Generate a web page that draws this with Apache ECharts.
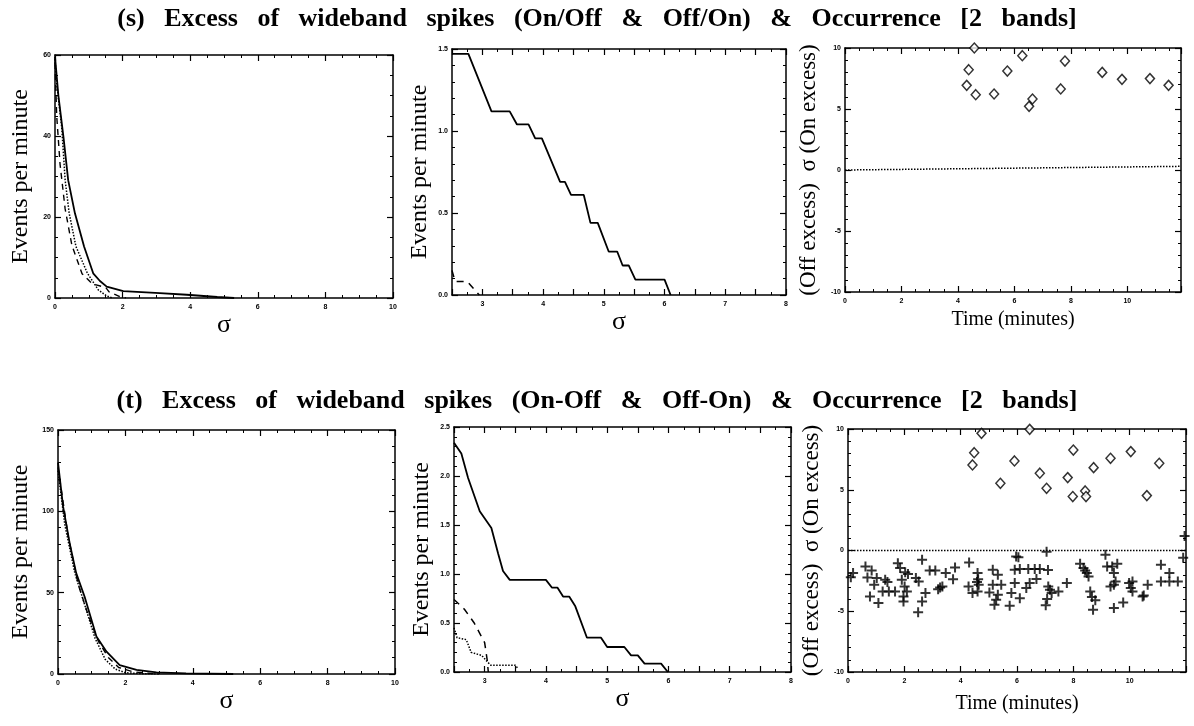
<!DOCTYPE html>
<html>
<head>
<meta charset="utf-8">
<style>
  html, body { margin: 0; padding: 0; background: #fff; }
  #main { width: 1194px; height: 726px; }
</style>
<script src="https://cdn.jsdelivr.net/npm/echarts@6/dist/echarts.min.js"></script>
</head>
<body>
<div id="main"></div>
<script>
// (s) row — on/off ratio
var sSigmaAll = [[0, 59.6], [0.1, 50], [0.25, 39.8], [0.39, 29.1], [0.59, 20.9], [0.86, 12.7], [1.13, 6.1], [1.33, 4.2], [1.53, 2.8], [2.02, 1.7], [3.1, 1.2], [3.9, 0.8], [4.8, 0.25], [5.3, 0]];
var sSigmaOn = [[0, 59], [0.05, 53], [0.2, 42], [0.3, 29.1], [0.42, 20.9], [0.62, 12.7], [0.96, 6.1], [1.28, 2.0], [1.53, 0.5], [1.7, 0]];
var sSigmaOff = [[0, 58], [0.05, 45], [0.15, 33], [0.3, 22], [0.5, 13], [0.8, 6], [1.1, 3.5], [1.5, 2.6], [1.6, 1.5], [1.9, 0.4], [2.1, 0]];
var sTailAll = [[2.5, 1.47], [2.77, 1.47], [3.15, 1.12], [3.45, 1.12], [3.57, 1.04], [3.76, 1.04], [3.87, 0.955], [3.98, 0.955], [4.28, 0.69], [4.36, 0.69], [4.46, 0.61], [4.67, 0.61], [4.78, 0.44], [4.9, 0.44], [5.08, 0.265], [5.22, 0.265], [5.31, 0.18], [5.41, 0.18], [5.52, 0.094], [6.0, 0.094], [6.1, 0]];
var sTailOff = [[2.5, 0.15], [2.55, 0.083], [2.75, 0.083], [2.95, 0]];
var sOnExcess = [[4.31, 6.94], [4.38, 8.22], [4.58, 10.0], [4.63, 6.17], [5.28, 6.23], [5.75, 8.11], [6.28, 9.37], [6.52, 5.22], [6.64, 5.82], [7.64, 6.64], [7.79, 8.93], [9.11, 8.0], [9.81, 7.43], [10.8, 7.49], [11.46, 6.94]];
var sOffExcess = [];
var sZeroLine = [[0, 0], [11.9, 0.3]];

// (t) row — on-off difference
var tSigmaAll = [[0, 130], [0.15, 103], [0.35, 80], [0.54, 62], [0.79, 47.5], [1.14, 23], [1.44, 13.7], [1.83, 5.5], [2.33, 2.5], [2.92, 1], [3.8, 0.4], [5.2, 0]];
var tSigmaOn = [[0, 125], [0.2, 92], [0.5, 62], [0.8, 42], [1.1, 22], [1.4, 9], [1.7, 3], [2.0, 0.8], [2.5, 0.2], [3, 0]];
var tSigmaOff = [[0, 127], [0.3, 85], [0.6, 55], [0.9, 36], [1.2, 20], [1.5, 10], [1.8, 4], [2.2, 1.5], [2.6, 0.5], [3, 0]];
var tTailAll = [[2.5, 2.34], [2.62, 2.23], [2.73, 1.98], [2.92, 1.64], [3.11, 1.47], [3.22, 1.21], [3.30, 1.03], [3.41, 0.94], [4.0, 0.94], [4.1, 0.86], [4.19, 0.86], [4.28, 0.77], [4.38, 0.77], [4.48, 0.67], [4.67, 0.35], [4.9, 0.35], [5.0, 0.255], [5.28, 0.255], [5.39, 0.17], [5.5, 0.17], [5.61, 0.085], [5.88, 0.085], [5.99, 0]];
var tTailOff = [[2.5, 0.74], [2.67, 0.64], [2.83, 0.5], [3.0, 0.3], [3.04, 0.13], [3.06, 0]];
var tTailOn = [[2.5, 0.45], [2.55, 0.35], [2.7, 0.33], [2.78, 0.2], [2.95, 0.17], [3.05, 0.1], [3.1, 0.07], [3.5, 0.07], [3.55, 0.03]];
var tOnExcess = [[4.42, 7.04], [4.48, 8.05], [4.74, 9.64], [5.41, 5.53], [5.91, 7.37], [6.45, 9.97], [6.81, 6.36], [7.05, 5.12], [7.8, 6.0], [8.0, 8.27], [7.98, 4.44], [8.42, 4.9], [8.45, 4.44], [8.72, 6.82], [9.32, 7.59], [10.04, 8.14], [10.61, 4.52], [11.05, 7.18]];
var tOffExcess = [[0.1, -2.2], [0.18, -1.86], [0.62, -1.31], [0.84, -1.64], [0.69, -2.22], [1.02, -2.27], [1.32, -2.41], [1.4, -2.6], [0.93, -2.82], [0.78, -3.78], [1.08, -4.33], [1.23, -3.37], [1.45, -3.37], [1.67, -3.37], [2.09, -3.37], [1.77, -1.04], [1.85, -1.45], [2.03, -1.78], [2.13, -1.94], [1.91, -2.41], [2.01, -2.96], [1.97, -3.78], [1.97, -4.19], [2.41, -2.27], [2.51, -2.55], [2.63, -0.77], [2.75, -3.5], [2.63, -4.19], [2.49, -5.09], [2.9, -1.64], [3.1, -1.64], [3.2, -3.18], [3.35, -2.96], [3.27, -3.05], [3.47, -1.86], [3.73, -2.36], [3.8, -1.4], [4.3, -0.99], [4.28, -2.96], [4.42, -3.5], [4.6, -1.86], [4.62, -2.36], [4.58, -2.6], [4.64, -2.82], [4.6, -3.37], [5.14, -1.59], [5.32, -2.0], [5.14, -2.82], [5.44, -2.82], [5.02, -3.45], [5.32, -3.64], [5.26, -4.05], [5.2, -4.46], [5.74, -4.54], [5.8, -3.5], [5.92, -1.59], [5.92, -2.68], [5.97, -0.49], [6.05, -0.55], [6.1, -1.53], [6.4, -1.53], [6.63, -1.53], [6.81, -1.53], [7.1, -1.6], [7.05, -0.1], [6.45, -2.68], [6.69, -2.35], [6.33, -3.09], [6.1, -3.92], [7.11, -2.96], [7.17, -3.23], [7.23, -3.5], [7.07, -4.0], [7.02, -4.5], [7.47, -3.37], [7.77, -2.68], [8.24, -1.1], [8.36, -1.45], [8.42, -1.64], [8.48, -1.86], [8.54, -2.13], [8.6, -3.37], [8.66, -3.83], [8.78, -4.1], [8.7, -4.87], [9.14, -0.35], [9.2, -1.31], [9.38, -1.31], [9.56, -1.1], [9.44, -1.86], [9.5, -2.55], [9.44, -2.82], [9.32, -2.96], [9.44, -4.73], [9.77, -4.27], [9.98, -2.68], [10.1, -2.55], [10.04, -3.09], [10.1, -3.37], [10.46, -3.78], [10.5, -3.7], [10.64, -2.82], [11.11, -1.18], [11.41, -1.86], [11.11, -2.55], [11.41, -2.55], [11.71, -2.55], [11.9, -0.6], [11.95, 1.2]];
var tZeroLine = [[0, 0], [12, 0]];

var myChart = echarts.init(document.getElementById('main'));

var serif = 'Liberation Serif';
var black = '#000';
var plusPath = 'path://M4,0H6V4H10V6H6V10H4V6H0V4H4Z';

function xAxes(gi, o) {
  var base = {
    gridIndex: gi, type: 'value', min: o.min, max: o.max, interval: o.interval,
    axisLine: { show: true, onZero: false, lineStyle: { color: black, width: 1.5 } },
    axisTick: { show: true, inside: true, length: 6, lineStyle: { color: black, width: 1.2 } },
    minorTick: { show: true, splitNumber: o.minor, length: 3, lineStyle: { color: black, width: 1 } },
    splitLine: { show: false }
  };
  var bottom = Object.assign({}, base, {
    position: 'bottom',
    axisLabel: { fontSize: 7, fontWeight: 'bold', color: black, margin: 6, showMinLabel: !o.hideMin, showMaxLabel: !o.hideMax, formatter: o.fmt },
    name: o.name, nameLocation: 'middle', nameGap: o.gap,
    nameTextStyle: { fontFamily: serif, fontSize: o.size, color: black }
  });
  var top = Object.assign({}, base, { position: 'top', axisLabel: { show: false } });
  return [bottom, top];
}

function yAxes(gi, o) {
  var base = {
    gridIndex: gi, type: 'value', min: o.min, max: o.max, interval: o.interval,
    axisLine: { show: true, onZero: false, lineStyle: { color: black, width: 1.5 } },
    axisTick: { show: true, inside: true, length: 6, lineStyle: { color: black, width: 1.2 } },
    minorTick: { show: true, splitNumber: o.minor, length: 3, lineStyle: { color: black, width: 1 } },
    splitLine: { show: false }
  };
  var left = Object.assign({}, base, {
    position: 'left',
    axisLabel: { fontSize: 7, fontWeight: 'bold', color: black, margin: 4, formatter: o.fmt },
    name: o.name, nameLocation: 'middle', nameGap: o.gap,
    nameTextStyle: { fontFamily: serif, fontSize: o.size, color: black }
  });
  var right = Object.assign({}, base, { position: 'right', axisLabel: { show: false } });
  return [left, right];
}

function curve(gi, data, type, width) {
  return {
    type: 'line', xAxisIndex: gi * 2, yAxisIndex: gi * 2, data: data,
    showSymbol: false, symbol: 'none', silent: true, clip: true,
    lineStyle: { color: black, width: width || 1.6, type: type || 'solid' }
  };
}

function marks(gi, data, symbol, size, hollow) {
  return {
    type: 'scatter', xAxisIndex: gi * 2, yAxisIndex: gi * 2, data: data,
    symbol: symbol, symbolSize: size, silent: true, clip: false,
    itemStyle: hollow ? { color: '#fff', borderColor: black, borderWidth: 1.5 } : { color: black }
  };
}

var oneDec = function (v) { return v.toFixed(1); };
// sigma tail panels start at 2.5: ticks every half unit, labels only on whole units
var wholeOnly = function (v) { return Math.abs(v - Math.round(v)) < 1e-6 ? String(Math.round(v)) : ''; };
var eventsName = 'Events per minute';
var sigmaName = 'σ';
var excessName = '(Off excess)  σ (On excess)';
var timeName = 'Time (minutes)';

var xs = [].concat(
  xAxes(0, { min: 0, max: 10, interval: 2, minor: 4, name: sigmaName, gap: 14, size: 26 }),
  xAxes(1, { min: 2.5, max: 8, interval: 0.5, minor: 2, fmt: wholeOnly, name: sigmaName, gap: 14, size: 26 }),
  xAxes(2, { min: 0, max: 11.9, interval: 2, minor: 4, hideMax: true, name: timeName, gap: 18, size: 20 }),
  xAxes(3, { min: 0, max: 10, interval: 2, minor: 4, name: sigmaName, gap: 14, size: 26 }),
  xAxes(4, { min: 2.5, max: 8, interval: 0.5, minor: 2, fmt: wholeOnly, name: sigmaName, gap: 14, size: 26 }),
  xAxes(5, { min: 0, max: 12, interval: 2, minor: 4, hideMax: true, name: timeName, gap: 22, size: 20 })
);
var ys = [].concat(
  yAxes(0, { min: 0, max: 60, interval: 20, minor: 4, name: eventsName, gap: 22, size: 24 }),
  yAxes(1, { min: 0, max: 1.5, interval: 0.5, minor: 5, fmt: oneDec, name: eventsName, gap: 20, size: 24 }),
  yAxes(2, { min: -10, max: 10, interval: 5, minor: 5, name: excessName, gap: 25, size: 23 }),
  yAxes(3, { min: 0, max: 150, interval: 50, minor: 5, name: eventsName, gap: 25, size: 24 }),
  yAxes(4, { min: 0, max: 2.5, interval: 0.5, minor: 5, fmt: oneDec, name: eventsName, gap: 20, size: 24 }),
  yAxes(5, { min: -10, max: 10, interval: 5, minor: 5, name: excessName, gap: 25, size: 23 })
);

var gapW = '   ';
var titleS = ['(s)', 'Excess', 'of', 'wideband', 'spikes', '(On/Off', '&', 'Off/On)', '&', 'Occurrence', '[2', 'bands]'].join(gapW);
var titleT = ['(t)', 'Excess', 'of', 'wideband', 'spikes', '(On-Off', '&', 'Off-On)', '&', 'Occurrence', '[2', 'bands]'].join(gapW);

myChart.setOption({
  backgroundColor: '#fff',
  animation: false,
  title: [{
    text: titleS,
    left: 'center', top: 1,
    textStyle: { fontFamily: serif, fontWeight: 'bold', fontSize: 26, color: black }
  }, {
    text: titleT,
    left: 'center', top: 383,
    textStyle: { fontFamily: serif, fontWeight: 'bold', fontSize: 26, color: black }
  }],
  grid: [
    { left: 55, top: 55, width: 338, height: 243 },
    { left: 452, top: 49, width: 334, height: 246 },
    { left: 845, top: 48, width: 336, height: 244 },
    { left: 58, top: 430, width: 337, height: 244 },
    { left: 454, top: 427, width: 337, height: 245 },
    { left: 848, top: 429, width: 338, height: 243 }
  ],
  xAxis: xs,
  yAxis: ys,
  series: [
    curve(0, sSigmaAll, 'solid', 1.8),
    curve(0, sSigmaOn, 'dotted', 1.5),
    curve(0, sSigmaOff, [6, 5], 1.4),
    curve(1, sTailAll, 'solid', 1.8),
    curve(1, sTailOff, [7, 6], 1.5),
    curve(2, sZeroLine, 'dotted', 1.5),
    marks(2, sOnExcess, 'diamond', [9, 10], true),
    marks(2, sOffExcess, plusPath, 10, false),
    curve(3, tSigmaAll, 'solid', 1.8),
    curve(3, tSigmaOn, 'dotted', 1.5),
    curve(3, tSigmaOff, [6, 5], 1.4),
    curve(4, tTailAll, 'solid', 1.8),
    curve(4, tTailOff, [7, 6], 1.5),
    curve(4, tTailOn, 'dotted', 1.5),
    curve(5, tZeroLine, 'dotted', 1.5),
    marks(5, tOnExcess, 'diamond', [9, 10], true),
    marks(5, tOffExcess, plusPath, 10, false)
  ]
});
</script>
</body>
</html>
